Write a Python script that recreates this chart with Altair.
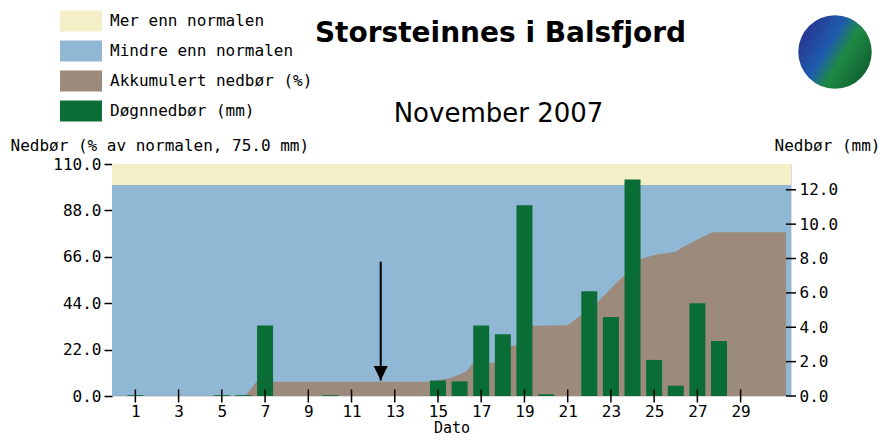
import altair as alt
import pandas as pd

# ---------------- data ----------------
days = list(range(1, 31))
daily_mm = [0.05, 0, 0, 0, 0.05, 0.05, 4.1, 0, 0, 0.05,
            0, 0, 0, 0, 0.9, 0.85, 4.1, 3.6, 11.1, 0.1,
            0, 6.1, 4.6, 12.6, 2.1, 0.6, 5.4, 3.2, 0, 0]

acc_day = [0.15, 6.1, 6.6, 14.6, 15.2, 15.55, 16.3, 16.6, 17.55, 18.3, 18.6,
           19.3, 21.0, 21.5, 22.4, 23.0, 23.3, 23.55, 24.36, 25.0, 26.0,
           26.35, 26.95, 27.7, 31.1]
acc_pct = [0.1, 0.1, 6.8, 6.8, 7.9, 8.4, 11.5, 15.4, 15.6, 23.8, 24.0,
           33.3, 33.6, 37.5, 44.7, 51.0, 54.0, 56.6, 64.8, 66.9, 68.4,
           70.8, 74.0, 77.6, 77.6]

band_names = ["Mindre enn normalen", "Mer enn normalen"]
band_lo = [0, 100]
band_hi = [100, 110]

legend_names = ["Mer enn normalen", "Mindre enn normalen",
                "Akkumulert nedbør (%)", "Døgnnedbør (mm)"]
legend_colors = ["#f3f0c8", "#90b8d5", "#9c8a7c", "#0b6d36"]

pct_ticks = [0, 22, 44, 66, 88, 110]
mm_ticks = [0, 2, 4, 6, 8, 10, 12]
day_ticks = list(range(1, 30, 2))

arrow_day = [12.35]
arrow_top = [63.7]
arrow_tip = [7.3]

title_text = "Storsteinnes i Balsfjord"
subtitle_text = "November 2007"

# ---------------- layout ----------------
W, H = 679, 232
MONO = "DejaVu Sans Mono"

bands_df = pd.DataFrame({"cat": band_names, "lo": band_lo, "hi": band_hi})
acc_df = pd.DataFrame({"day": acc_day, "pct": acc_pct,
                       "cat": ["Akkumulert nedbør (%)"] * len(acc_day)})
daily_df = pd.DataFrame({"day": days, "mm": daily_mm,
                         "cat": ["Døgnnedbør (mm)"] * len(days)})
arrow_df = pd.DataFrame({"day": arrow_day, "top": arrow_top, "tip": arrow_tip})
mmtick_df = pd.DataFrame({"v": mm_ticks})
daytick_df = pd.DataFrame({"d": day_ticks})
one_df = pd.DataFrame({"k": [0]})

x_scale = alt.Scale(domain=[0.15, 31.1], nice=False, zero=False)
pct_scale = alt.Scale(domain=[0, 110], nice=False, zero=True)
mm_scale = alt.Scale(domain=[0, 13.5], nice=False, zero=True)

x_axis = alt.Axis(values=day_ticks, format="d", ticks=False, domain=False,
                  grid=False, labelPadding=7, labelFont=MONO, labelFontSize=16,
                  labelColor="black", title="Dato", titleFont=MONO,
                  titleFontSize=15, titleFontWeight="normal", titleColor="black",
                  titleBaseline="alphabetic", titleY=36, labelFlush=False)
left_axis = alt.Axis(values=pct_ticks, format=".1f", tickSize=8, tickWidth=1.5,
                     tickColor="black", domain=False, grid=False, labelPadding=3,
                     labelFont=MONO, labelFontSize=16, labelColor="black",
                     title="Nedbør (% av normalen, 75.0 mm)", titleAngle=0,
                     titleAlign="left", titleBaseline="alphabetic", titleX=-102,
                     titleY=-14, titleFont=MONO, titleFontSize=16,
                     titleFontWeight="normal", titleColor="black", labelFlush=False)
right_axis = alt.Axis(orient="right", values=mm_ticks, format=".1f", ticks=False,
                      domain=False, grid=False, labelPadding=8, labelFont=MONO,
                      labelFontSize=16, labelColor="black", title="Nedbør (mm)",
                      titleAngle=0, titleAlign="left", titleBaseline="alphabetic",
                      titleX=-17, titleY=-14, titleFont=MONO, titleFontSize=16,
                      titleFontWeight="normal", titleColor="black", labelFlush=False)

legend = alt.Legend(orient="none", legendX=-41.5, legendY=-153.5, title=None,
                    direction="vertical", symbolType="M-2,-1H2V1H-2Z",
                    symbolSize=441, symbolStrokeWidth=0, symbolOpacity=1,
                    labelFont=MONO, labelFontSize=16, labelColor="black",
                    labelOffset=18.5, rowPadding=9, labelLimit=400)
color_enc = alt.Color("cat:N", scale=alt.Scale(domain=legend_names, range=legend_colors),
                      legend=legend)

bands = alt.Chart(bands_df).mark_rect().encode(
    x=alt.value(0), x2=alt.value(W),
    y=alt.Y("lo:Q", scale=pct_scale, axis=left_axis),
    y2="hi:Q",
    color=color_enc,
)

area = alt.Chart(acc_df).mark_area(interpolate="linear", opacity=1).encode(
    x=alt.X("day:Q", scale=x_scale, axis=x_axis),
    y=alt.Y("pct:Q", scale=pct_scale, axis=left_axis),
    color=color_enc,
)

arrow_shaft = alt.Chart(arrow_df).mark_rule(color="black", strokeWidth=2).encode(
    x=alt.X("day:Q", scale=x_scale, axis=x_axis),
    y=alt.Y("top:Q", scale=pct_scale, axis=left_axis),
    y2="tip:Q",
)
arrow_head = alt.Chart(arrow_df).mark_point(
    shape="M-1,-2.1L1,-2.1L0,0Z", filled=True, color="black", opacity=1, size=196
).encode(
    x=alt.X("day:Q", scale=x_scale, axis=x_axis),
    y=alt.Y("tip:Q", scale=pct_scale, axis=left_axis),
)

logo = alt.Chart(one_df).mark_circle(
    opacity=1,
    color=alt.Gradient(
        gradient="linear",
        stops=[alt.GradientStop(color="#27308a", offset=0),
               alt.GradientStop(color="#1f5cae", offset=0.4),
               alt.GradientStop(color="#1e8a45", offset=0.6),
               alt.GradientStop(color="#0e5a2c", offset=1)],
        x1=0, x2=1, y1=0.2, y2=0.8,
    ),
    size=5400,
).encode(x=alt.value(723), y=alt.value(-112))

title_mark = alt.Chart(one_df).mark_text(
    text=title_text, font="DejaVu Sans", fontSize=28, fontWeight="bold",
    color="black", align="center", baseline="alphabetic",
).encode(x=alt.value(388.5), y=alt.value(-122))
subtitle_mark = alt.Chart(one_df).mark_text(
    text=subtitle_text, font="DejaVu Sans", fontSize=26, fontWeight="normal",
    color="black", align="center", baseline="alphabetic",
).encode(x=alt.value(386.5), y=alt.value(-42))

left_group = alt.layer(bands, area, arrow_shaft, arrow_head, logo,
                       title_mark, subtitle_mark)

bars = alt.Chart(daily_df).mark_bar(size=16).encode(
    x=alt.X("day:Q", scale=x_scale, axis=x_axis),
    y=alt.Y("mm:Q", scale=mm_scale, axis=right_axis),
    color=color_enc,
)
rticks = alt.Chart(mmtick_df).mark_tick(
    orient="horizontal", size=10, thickness=1.5, color="black", opacity=1
).encode(
    y=alt.Y("v:Q", scale=mm_scale, axis=right_axis),
    x=alt.value(W),
)
xticks = alt.Chart(daytick_df).mark_tick(
    orient="vertical", size=13, thickness=1.5, color="black", opacity=1
).encode(
    x=alt.X("d:Q", scale=x_scale, axis=x_axis),
    y=alt.value(H),
)

right_group = alt.layer(bars, rticks, xticks)

chart = alt.layer(left_group, right_group).resolve_scale(
    y="independent"
).properties(
    width=W, height=H,
    padding={"left": 104, "top": 156, "right": 90, "bottom": 42},
    autosize=alt.AutoSizeParams(type="none"),
).configure_view(stroke="black", strokeWidth=2).configure(background="white")

chart.save("out.html", embed_options={"renderer": "svg", "actions": False})
